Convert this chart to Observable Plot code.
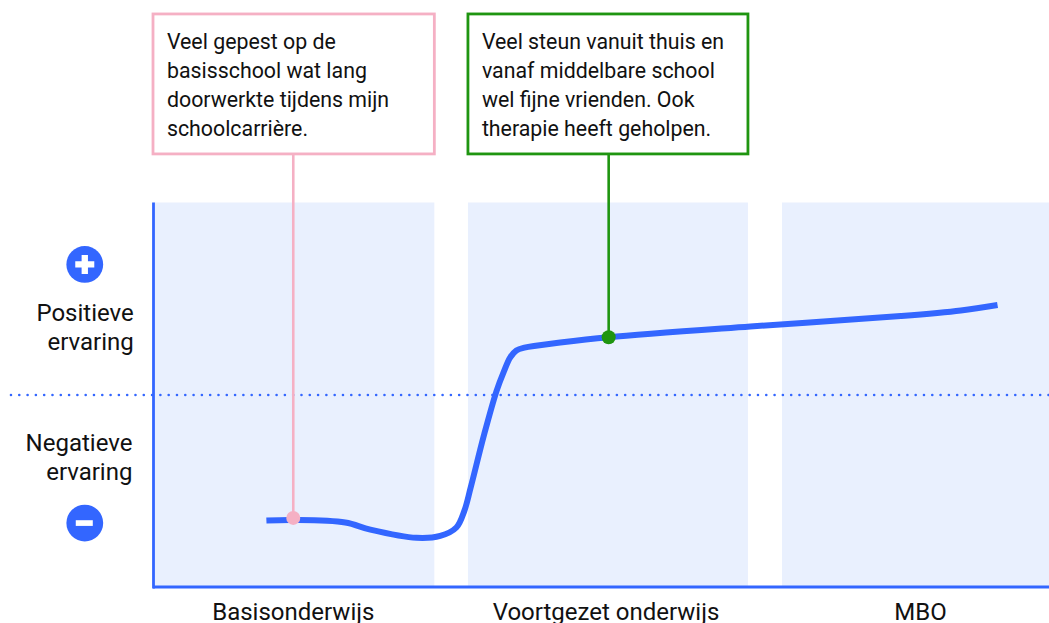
<!DOCTYPE html>
<html><head><meta charset="utf-8">
<style>html,body{margin:0;padding:0;background:#fff;overflow:hidden}svg{display:block}</style>
<script src="https://cdn.jsdelivr.net/npm/d3@7"></script>
<script src="https://cdn.jsdelivr.net/npm/@observablehq/plot@0.6"></script>
</head><body><div id="chart"></div>
<script>
const phases = ["Basisonderwijs", "Voortgezet onderwijs", "MBO"];
const phaseStart = [0, 35.15, 70.2];
const phaseEnd = [31.4, 66.4, 100];
const phaseMid = [15.6, 50.5, 85.6];
const curveX = [12.6,15.6,21.4,24.2,29.35,32.0,33.8,34.7,35.4,36.9,38.3,39.1,39.8,40.5,41.4,45.4,50.8,66.6,83.4,90.1,94.2];
const curveY = [-65.4,-65.1,-66.4,-70.1,-74.4,-73.4,-69.0,-60.2,-48.2,-20.6,2.3,12.2,19.5,23.2,24.7,27.3,30.1,35.7,41.1,44.0,46.9];
const noteText = [
  "Veel gepest op de\nbasisschool wat lang\ndoorwerkte tijdens mijn\nschoolcarrière.",
  "Veel steun vanuit thuis en\nvanaf middelbare school\nwel fijne vrienden. Ook\ntherapie heeft geholpen."
];
const noteX = [15.6, 50.8];
const noteY = [-64.0, 30.1];
const noteColor = ["#f5b0c4", "#1f9510"];
const noteBoxTop = [198.2, 198.2];
const noteBoxBottom = [125.3, 125.3];
const sideLabels = ["Positieve\nervaring", "Negatieve\nervaring"];
const sideLabelX = [-2.2, -2.35];
const sideLabelY = [35.6, -32.1];
const iconY = [68, -66.7];
const iconX = -7.67;

const blue = "#3366ff";
const font = "Roboto, sans-serif";
const ink = "#111111";
const idx = d3.range(2);
const lineData = curveX.map((x, i) => ({x, y: curveY[i]}));

const chart = Plot.plot({
  width: 1049, height: 623,
  margin: 0,
  x: {domain: [0, 100], range: [153, 1049], axis: null},
  y: {domain: [-100, 100], range: [586.5, 202.5], axis: null},
  marks: [
    Plot.rect(d3.range(3), {x1: i => phaseStart[i], x2: i => phaseEnd[i], y1: -100, y2: 100, fill: "#e9f0fe"}),
    Plot.ruleY([0], {x1: -15.85, x2: 100, stroke: blue, strokeWidth: 2.6, strokeDasharray: "0 8.3", strokeLinecap: "round"}),
    Plot.ruleX([0], {y1: -101, y2: 100, stroke: blue, strokeWidth: 2.8}),
    Plot.ruleY([-100], {x1: 0, x2: 100, stroke: blue, strokeWidth: 2.8}),
    Plot.ruleX(idx, {x: i => noteX[i], y1: i => noteY[i], y2: i => noteBoxBottom[i], stroke: i => noteColor[i], strokeWidth: 2.6}),
    Plot.line(lineData, {x: "x", y: "y", stroke: blue, strokeWidth: 6, curve: "catmull-rom", strokeLinecap: "butt"}),
    Plot.dot(idx, {x: i => noteX[i], y: i => noteY[i], r: 7, fill: i => noteColor[i]}),
    Plot.rect(idx, {x1: i => phaseStart[i], x2: i => phaseEnd[i], y1: i => noteBoxBottom[i], y2: i => noteBoxTop[i], fill: "white", stroke: i => noteColor[i], strokeWidth: 2.8}),
    Plot.text(idx, {x: i => phaseStart[i] + 1.5, y: 162.2, text: i => noteText[i], textAnchor: "start", lineAnchor: "middle", lineHeight: 1.36, fontSize: 21.33, fontFamily: font, fill: ink}),
    Plot.text(idx, {x: i => sideLabelX[i], y: i => sideLabelY[i], text: i => sideLabels[i], textAnchor: "end", lineAnchor: "middle", lineHeight: 1.2, fontSize: 24, fontFamily: font, fill: ink}),
    Plot.dot(iconY, {x: iconX, y: d => d, r: 18.4, fill: blue}),
    Plot.dot([iconY[0]], {x: iconX, y: d => d, symbol: "cross", r: 8, fill: "white"}),
    Plot.ruleY([iconY[1]], {x1: iconX - 0.95, x2: iconX + 0.95, stroke: "white", strokeWidth: 5.7}),
    Plot.text(d3.range(3), {x: i => phaseMid[i], y: -113.3, text: i => phases[i], lineAnchor: "middle", fontSize: 24, fontFamily: font, fill: ink})
  ]
});
document.getElementById("chart").append(chart);
</script></body></html>
